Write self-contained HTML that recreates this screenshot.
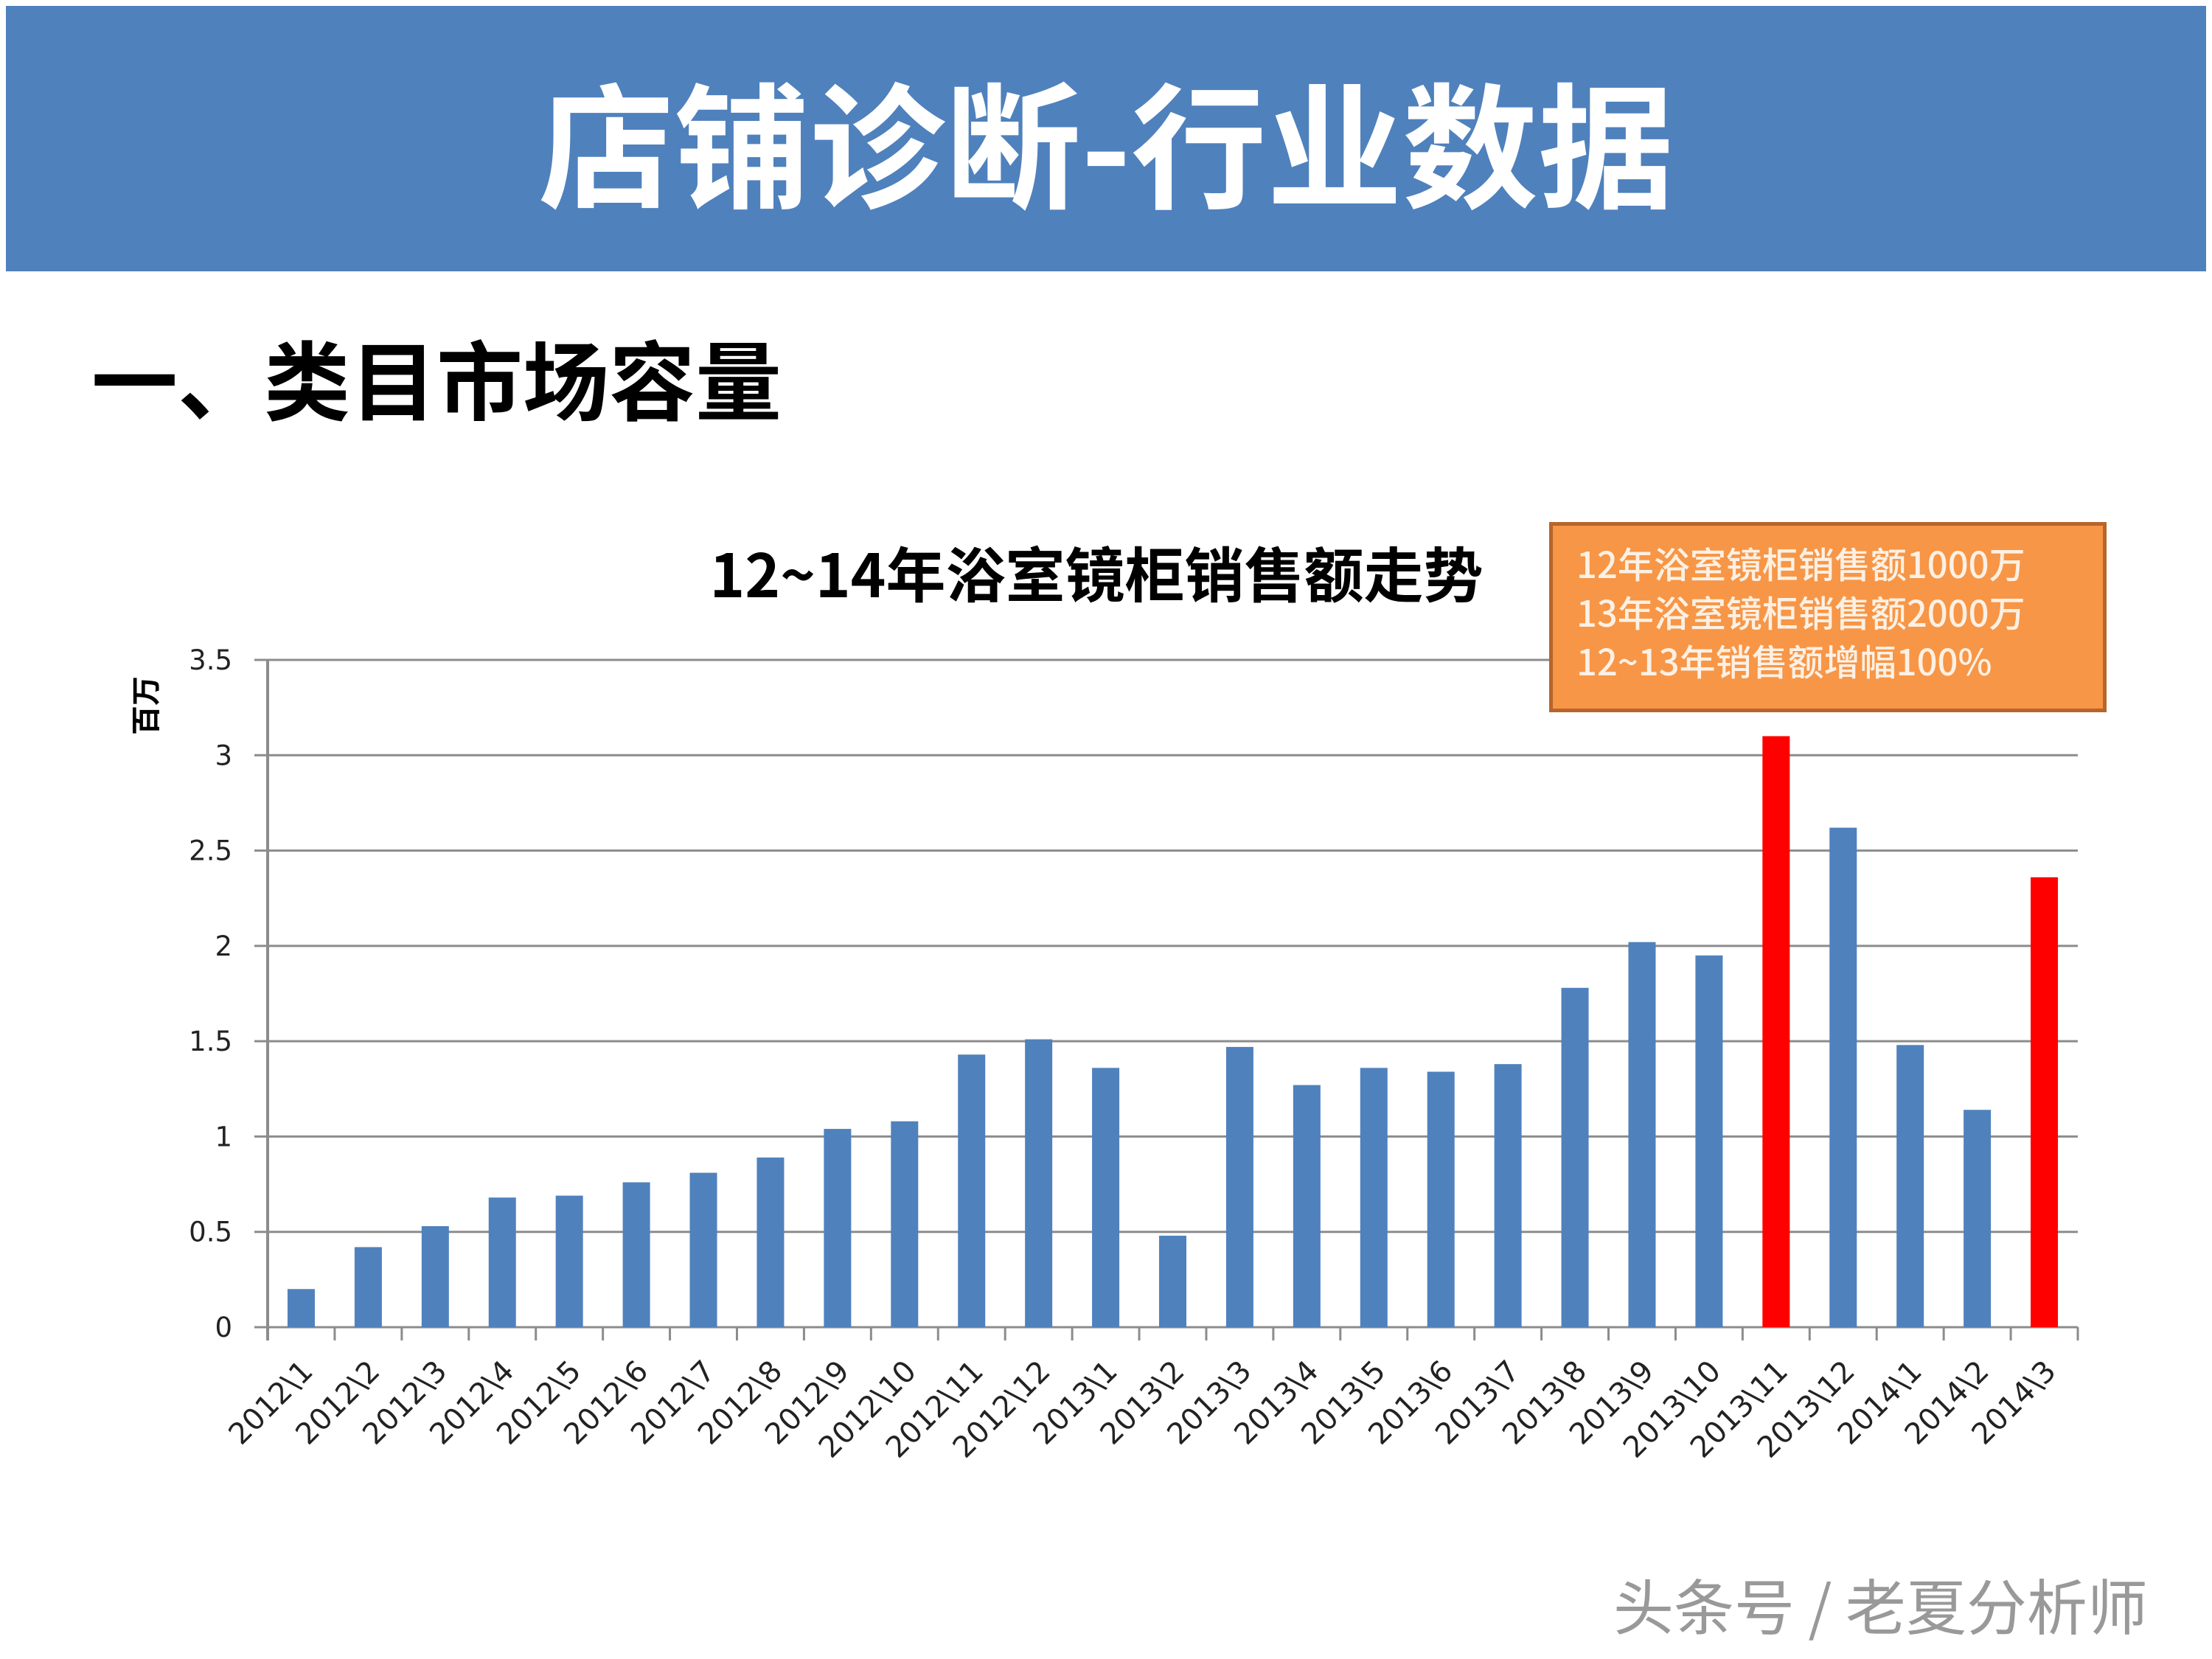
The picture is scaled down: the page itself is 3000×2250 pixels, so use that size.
<!DOCTYPE html>
<html><head><meta charset="utf-8"><style>
body{margin:0;width:3000px;height:2250px;background:#fff;overflow:hidden;position:relative;font-family:"Liberation Sans","Noto Sans CJK SC",sans-serif}
#hdr{position:absolute;left:8px;top:8px;width:2984px;height:360px;background:#4f81bd;color:#fff;font-weight:bold;font-size:184px;text-align:center;line-height:360px;font-family:"Noto Sans CJK SC",sans-serif}
#sub{position:absolute;left:124px;top:440px;font-size:117px;font-weight:bold;font-family:"Noto Sans CJK SC",sans-serif;line-height:140px}
#box{position:absolute;left:2101px;top:708px;width:756px;height:258px;background:#f79646;border:5px solid #b7652b;color:#fdf0e4;font-size:49px;line-height:66px;padding:18px 0 0 32px;box-sizing:border-box;font-family:"Noto Sans CJK SC",sans-serif;font-weight:500}
#wm{position:absolute;left:2188px;top:2115px;font-size:82px;color:#999;font-family:"Noto Sans CJK SC",sans-serif;text-shadow:0 0 4px #fff}
</style></head><body>
<div id="hdr">店铺诊断-行业数据</div>
<div id="sub">一、类目市场容量</div>
<svg id="chart" width="3000" height="2250" style="position:absolute;left:0;top:0">
<text x="1487" y="810" text-anchor="middle" font-size="81" font-weight="bold" font-family="Noto Sans CJK SC,sans-serif">12~14年浴室镜柜销售额走势</text>
<text transform="translate(212,957) rotate(-90)" text-anchor="middle" font-size="40" font-weight="bold" font-family="Noto Sans CJK SC,sans-serif">百万</text>
<g id="g"></g>
</svg>
<div id="box">12年浴室镜柜销售额1000万<br>13年浴室镜柜销售额2000万<br>12~13年销售额增幅100%</div>
<div id="wm">头条号 / 老夏分析师</div>
<script>
const categories=["2012\\1","2012\\2","2012\\3","2012\\4","2012\\5","2012\\6","2012\\7","2012\\8","2012\\9","2012\\10","2012\\11","2012\\12","2013\\1","2013\\2","2013\\3","2013\\4","2013\\5","2013\\6","2013\\7","2013\\8","2013\\9","2013\\10","2013\\11","2013\\12","2014\\1","2014\\2","2014\\3"];
const sales=[0.2,0.42,0.53,0.68,0.69,0.76,0.81,0.89,1.04,1.08,1.43,1.51,1.36,0.48,1.47,1.27,1.36,1.34,1.38,1.78,2.02,1.95,3.1,2.62,1.48,1.14,2.36];
const highlighted=[22,26];
const yTicks=[0,0.5,1,1.5,2,2.5,3,3.5];
const NS="http://www.w3.org/2000/svg",g=document.getElementById('g');
const L=363,R=2818,T=895,B=1800,ymax=3.5;
const y=v=>B-(B-T)*v/ymax, step=(R-L)/categories.length, xc=i=>L+step*(i+0.5);
function mk(t,a){const e=document.createElementNS(NS,t);for(const k in a)e.setAttribute(k,a[k]);g.appendChild(e);return e;}
yTicks.forEach(v=>{
 const l=mk('line',{x1:L-18,x2:R,y1:y(v),y2:y(v),stroke:'#8c8c8c','stroke-width':3});
 
 
 const t=mk('text',{x:L-48,y:y(v)+13,'text-anchor':'end','font-size':37,'font-family':'DejaVu Sans,sans-serif',fill:'#222'});
 t.textContent=v;
 
 
});
const ax=mk('line',{x1:L,x2:L,y1:T,y2:B+18,stroke:'#8c8c8c','stroke-width':4});


for(let i=0;i<=categories.length;i++){const tk=mk('line',{x1:L+step*i,x2:L+step*i,y1:B,y2:B+18,stroke:'#8c8c8c','stroke-width':3});
 
 }
const bw=37;
sales.forEach((v,i)=>{
 const r=mk('rect',{x:xc(i)-bw/2,y:y(v),width:bw,height:B-y(v),fill:highlighted.includes(i)?'#ff0000':'#4f81bd'});
 
 
 const t=mk('text',{x:0,y:0,'text-anchor':'end','font-size':40,'font-family':'DejaVu Sans,sans-serif',fill:'#222',transform:`translate(${xc(i)+18},${B+62}) rotate(-45)`});
 t.textContent=categories[i];
 
 
});
</script>
</body></html>
